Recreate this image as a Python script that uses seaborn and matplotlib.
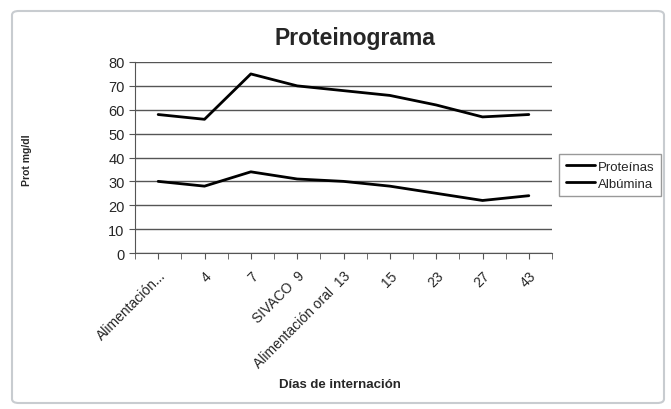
import numpy as np
import pandas as pd
import seaborn as sns
import matplotlib.pyplot as plt
from matplotlib.patches import FancyBboxPatch

dias = ["Alimentación...", "4", "7", "SIVACO  9", "Alimentación oral  13", "15", "23", "27", "43"]
proteinas = [58, 56, 75, 70, 68, 66, 62, 57, 58]
albumina = [30, 28, 34, 31, 30, 28, 25, 22, 24]

df = pd.DataFrame({
    "pos": list(range(len(dias))) * 2,
    "valor": proteinas + albumina,
    "serie": ["Proteínas"] * len(dias) + ["Albúmina"] * len(dias),
})

sns.set_style("white")
plt.rcParams['font.family'] = ['Liberation Sans', 'DejaVu Sans']

fig = plt.figure(figsize=(6.71, 4.10), dpi=100)
ax = fig.add_axes([135 / 671, 1 - 254 / 410, (552 - 135) / 671, (254 - 63) / 410])

# chart frame like excel
frame = FancyBboxPatch((12 / 671, 6 / 410), 652 / 671, 392 / 410,
                       boxstyle="round,pad=0,rounding_size=0.01",
                       transform=fig.transFigure, facecolor="none",
                       edgecolor="#c8ccd0", linewidth=1.5)
fig.patches.append(frame)

sns.lineplot(data=df, x="pos", y="valor", hue="serie", palette=["black", "black"],
             linewidth=2, ax=ax, legend=False)
ax.plot([], [], color="black", lw=2, label="Proteínas")
ax.plot([], [], color="black", lw=2, label="Albúmina")

ax.set_xlim(-0.5, len(dias) - 0.5)
ax.set_ylim(0, 80)
ax.set_yticks(range(0, 81, 10))
ax.yaxis.grid(True, color="#555555", linewidth=1)
ax.set_axisbelow(True)
ax.set_xticks(range(len(dias)))
ax.set_xticklabels(dias, rotation=45, ha="right", rotation_mode="anchor", fontsize=10)
ax.set_xticks(np.arange(-0.5, len(dias), 1), minor=True)
ax.tick_params(axis="x", which="both", direction="out", length=4, color="#555555",
               bottom=True, pad=7)
ax.tick_params(axis="y", direction="out", length=4, color="#555555", left=True, labelsize=10.5)
for s in ["top", "right"]:
    ax.spines[s].set_visible(False)
for s in ["left", "bottom"]:
    ax.spines[s].set_color("#555555")

ax.set_xlabel("")
ax.set_ylabel("")
fig.text(355 / 671, 1 - 38 / 410, "Proteinograma", ha="center", va="center",
         fontsize=16.5, fontweight="bold")
fig.text(27 / 671, 1 - 160 / 410, "Prot mg/dl", ha="center", va="center",
         rotation=90, fontsize=7.5, fontweight="bold")
fig.text(340 / 671, 1 - 385 / 410, "Días de internación", ha="center", va="center",
         fontsize=9.5, fontweight="bold")

leg = ax.legend(loc="center", bbox_to_anchor=(610 / 671, 1 - 176 / 410),
                bbox_transform=fig.transFigure, fontsize=9.5, frameon=True,
                fancybox=False, edgecolor="#808080", handlelength=2.2,
                handletextpad=0.2, borderpad=0.5, labelspacing=0.35)

fig.savefig("out.png", dpi=100)
